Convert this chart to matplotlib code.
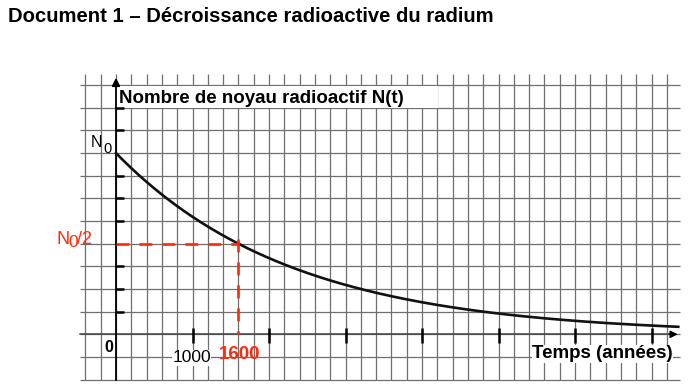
import numpy as np
import matplotlib
matplotlib.use("Agg")
from matplotlib import pyplot as plt
from matplotlib.patches import Rectangle

plt.rcParams['font.family'] = ['Liberation Sans', 'DejaVu Sans']

N0 = 8.0                 # N0 sits 8 grid cells above the time axis
half_life = 1600         # years, N0/2 reached at 1600
x_ticks = [1000, 2000, 3000, 4000, 5000, 6000, 7000]
y_ticks = [1, 2, 3, 5, 6, 7, 9, 10]
t_curve = np.linspace(0, 7350, 300)
n_curve = N0 * 0.5 ** (t_curve / half_life)

title = "Document 1 – Décroissance radioactive du radium"
ylabel = "Nombre de noyau radioactif N(t)"
xlabel = "Temps (années)"

red = '#ff2a0a'
grid_col = '#6f6f6f'

fig = plt.figure(figsize=(6.98, 3.92), dpi=100)
ax = fig.add_axes([0, 0, 1, 1])
# pixel mapping: t=0 at x=116px, 76.5px per 1000 years; y=0 at 334.3px, 22.65px per unit
ax.set_xlim(-116 / 0.0765, (698 - 116) / 0.0765)
ax.set_ylim(-(392 - 334.3) / 22.65, 334.3 / 22.65)
ax.axis('off')

# squared paper
ax.vlines(np.arange(-400, 7201, 200), -2, 11.5, color=grid_col, lw=0.9, zorder=1)
ax.hlines(np.arange(-2, 12, 1), -470, 7370, color=grid_col, lw=0.9, zorder=1)

# white box behind the y label
ax.add_patch(Rectangle((0, 9.97), 4210, 0.98, facecolor='white', edgecolor='none', zorder=2))

# axes with arrows
ax.plot([0, 0], [-2, 11.0], color='black', lw=1.3, zorder=4)
ax.annotate('', xy=(0, 11.45), xytext=(0, 10.9),
            arrowprops=dict(arrowstyle='-|>', color='black', lw=1.2, mutation_scale=12), zorder=4)
ax.plot([-470, 7250], [0, 0], color='#444444', lw=1.1, zorder=3)
ax.annotate('', xy=(7380, 0), xytext=(7200, 0),
            arrowprops=dict(arrowstyle='-|>', color='black', lw=1.0, mutation_scale=11), zorder=4)

# ticks
ax.vlines(x_ticks, -0.4, 0.3, color='black', lw=1.8, zorder=4)
ax.hlines(y_ticks, 0, 105, color='black', lw=1.8, zorder=4)

# decay curve
ax.plot(t_curve, n_curve, color='#111111', lw=1.9, zorder=5)

# half-life construction
ax.plot([0, half_life], [N0 / 2, N0 / 2], color=red, lw=1.9, dashes=(4.9, 3.8), zorder=6)
ax.plot([half_life, half_life], [N0 / 2 + 0.2, 0], color=red, lw=1.9, dashes=(4.9, 3.8), zorder=6)

# texts
ax.text(-1412, 13.80, title, fontsize=14.6, fontweight='bold', ha='left', va='baseline')
ax.text(39, 10.20, ylabel, fontsize=13.5, fontweight='bold', ha='left', va='baseline', zorder=7)
ax.text(-261, 8.28, 'N', fontsize=11.5, ha='center', va='baseline', zorder=7)
ax.text(-112, 8.0, '0', fontsize=10.5, ha='center', va='baseline', zorder=7)
ax.text(-784, 3.99, 'N', fontsize=13, color=red, ha='left', va='baseline', zorder=7)
ax.text(-627, 3.85, '0', fontsize=12.5, color=red, ha='left', va='baseline', zorder=7)
ax.text(-505, 3.99, '/2', fontsize=13, color=red, ha='left', va='baseline', zorder=7)
ax.text(-91, -0.795, '0', fontsize=11.5, fontweight='bold', ha='center', va='baseline', zorder=7)
ax.text(988, -1.245, '1000', fontsize=12.5, ha='center', va='baseline', zorder=7,
        bbox=dict(facecolor='white', edgecolor='none', pad=0.3))
ax.text(1621, -1.104, '1600', fontsize=13.5, fontweight='bold', color=red, ha='center', va='baseline', zorder=7)
ax.text(6359, -1.06, xlabel, fontsize=13.5, fontweight='bold', ha='center', va='baseline', zorder=7,
        bbox=dict(facecolor='white', edgecolor='none', pad=0.3))

fig.savefig('out.png', dpi=100, facecolor='white')
